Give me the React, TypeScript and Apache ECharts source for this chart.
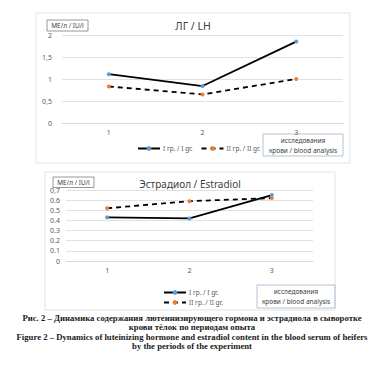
import React, { useEffect, useRef } from "react";
import * as echarts from "echarts";

const periods = ["1", "2", "3"];
const lhGroup1 = [1.11, 0.84, 1.85];
const lhGroup2 = [0.83, 0.65, 1.0];
const e2Group1 = [0.43, 0.42, 0.65];
const e2Group2 = [0.52, 0.59, 0.62];
const seriesNames = ["I гр. / I gr.", "II гр. / II gr."];
const lhTitle = "ЛГ / LH";
const e2Title = "Эстрадиол / Estradiol";
const unitLabel = "МЕ/л / IU/l";
const xNameLines = ["исследования", "крови / blood analysis"];
const captionLines = [
  "Рис. 2 – Динамика содержания лютеинизирующего гормона и эстрадиола в сыворотке",
  "крови тёлок по периодам опыта",
  "Figure 2 – Dynamics of luteinizing hormone and estradiol content in the blood serum of heifers",
  "by the periods of the experiment",
];

const FONT = "Noto Sans";
const BLUE = "#5b9bd5";
const ORANGE = "#ed7d31";
const GRID = "#d9d9d9";
const LABEL = "#595959";

function fmtComma(v: number) {
  return String(Math.round(v * 10) / 10).replace(".", ",");
}

export default function App() {
  const ref = useRef<HTMLDivElement>(null);
  useEffect(() => {
    if (!ref.current) return;
    const chart = echarts.init(ref.current, null, { renderer: "svg" });
    const axisLabel = { color: LABEL, fontSize: 7, fontFamily: FONT };
    const mkLine = (name: string, data: number[], xi: number, dashed: boolean, color: string) => ({
      type: "line",
      name,
      xAxisIndex: xi,
      yAxisIndex: xi,
      data,
      symbol: "circle",
      symbolSize: 4,
      lineStyle: { color: "#000", width: 1.8, type: dashed ? [5, 4] : "solid" },
      itemStyle: { color },
      z: 3,
    });
    const box = (x: number, y: number, w: number, h: number, stroke: string, lw = 1) => ({
      type: "rect",
      shape: { x, y, width: w, height: h },
      style: { fill: "none", stroke, lineWidth: lw },
      silent: true,
    });
    const txt = (x: number, y: number, text: string, size: number, opts: any = {}) => ({
      type: "text",
      x,
      y,
      style: {
        text,
        fontSize: size,
        fontFamily: opts.family || FONT,
        fontWeight: opts.weight || "normal",
        fill: opts.fill || "#404040",
        textAlign: opts.align || "center",
        textVerticalAlign: "middle",
      },
      silent: true,
    });
    chart.setOption({
      animation: false,
      backgroundColor: "#fff",
      grid: [
        { left: 62, right: 41, top: 35, bottom: 244 },
        { left: 66, right: 71, top: 190, bottom: 106 },
      ],
      xAxis: [
        {
          gridIndex: 0,
          type: "category",
          data: periods,
          boundaryGap: true,
          axisLine: { show: true, lineStyle: { color: GRID } },
          axisTick: { show: false },
          axisLabel: { ...axisLabel, margin: 6 },
        },
        {
          gridIndex: 1,
          type: "category",
          data: periods,
          boundaryGap: true,
          axisLine: { show: true, lineStyle: { color: GRID } },
          axisTick: { show: false },
          axisLabel: { ...axisLabel, margin: 6 },
        },
      ],
      yAxis: [
        {
          gridIndex: 0,
          type: "value",
          min: 0,
          max: 2,
          interval: 0.5,
          axisLine: { show: false },
          axisTick: { show: false },
          splitLine: { lineStyle: { color: GRID, width: 0.8 } },
          axisLabel: { ...axisLabel, margin: 10, formatter: (v: number) => fmtComma(v) },
        },
        {
          gridIndex: 1,
          type: "value",
          min: 0,
          max: 0.7,
          interval: 0.1,
          axisLine: { show: false },
          axisTick: { show: false },
          splitLine: { lineStyle: { color: GRID, width: 0.8 } },
          axisLabel: {
            ...axisLabel,
            margin: 6,
            formatter: (v: number) => {
              const r = Math.round(v * 10) / 10;
              if (r === 0) return "0";
              return r === 0.7 ? "0,7" : r.toFixed(1);
            },
          },
        },
      ],
      legend: [
        {
          data: seriesNames,
          orient: "horizontal",
          left: 132,
          top: 140,
          itemWidth: 22,
          itemHeight: 6,
          itemGap: 8,
          textStyle: { color: LABEL, fontSize: 6.5, fontFamily: FONT, padding: [0, 0, 0, -2] },
        },
        {
          data: seriesNames,
          orient: "vertical",
          left: 158,
          top: 284,
          itemWidth: 22,
          itemHeight: 6,
          itemGap: 3,
          textStyle: { color: LABEL, fontSize: 6.5, fontFamily: FONT, padding: [0, 0, 0, -2] },
        },
      ],
      series: [
        mkLine(seriesNames[0], lhGroup1, 0, false, BLUE),
        mkLine(seriesNames[1], lhGroup2, 0, true, ORANGE),
        mkLine(seriesNames[0], e2Group1, 1, false, BLUE),
        mkLine(seriesNames[1], e2Group2, 1, true, ORANGE),
      ],
      graphic: [
        box(36, 13, 314, 150, "#e3e3e3"),
        box(45, 172, 290, 138, "#e3e3e3"),
        box(47, 20, 41, 11, "#7f7f7f", 0.8),
        txt(67.5, 25.5, unitLabel, 6.5),
        box(53, 177, 41, 10.5, "#7f7f7f", 0.8),
        txt(73.5, 182.5, unitLabel, 6.5),
        txt(193, 26, lhTitle, 10.5),
        txt(190, 184, e2Title, 10),
        box(263, 134, 80, 22, "#9fb4c8", 0.8),
        txt(303, 140.5, xNameLines[0], 6.5),
        txt(303, 150, xNameLines[1], 6.5),
        box(257, 285, 78, 23, "#9fb4c8", 0.8),
        txt(296, 291.5, xNameLines[0], 6.5),
        txt(296, 301.5, xNameLines[1], 6.5),
        ...captionLines.map((line, i) =>
          txt(192, 317.5 + i * 9.5, line, 8.7, {
            family: "Liberation Serif",
            weight: "bold",
            fill: "#1a1a1a",
          })
        ),
      ],
    });
    return () => chart.dispose();
  }, []);
  return (
    <div
      ref={ref}
      style={{ position: "fixed", left: 0, top: 0, width: 384, height: 367 }}
    />
  );
}
